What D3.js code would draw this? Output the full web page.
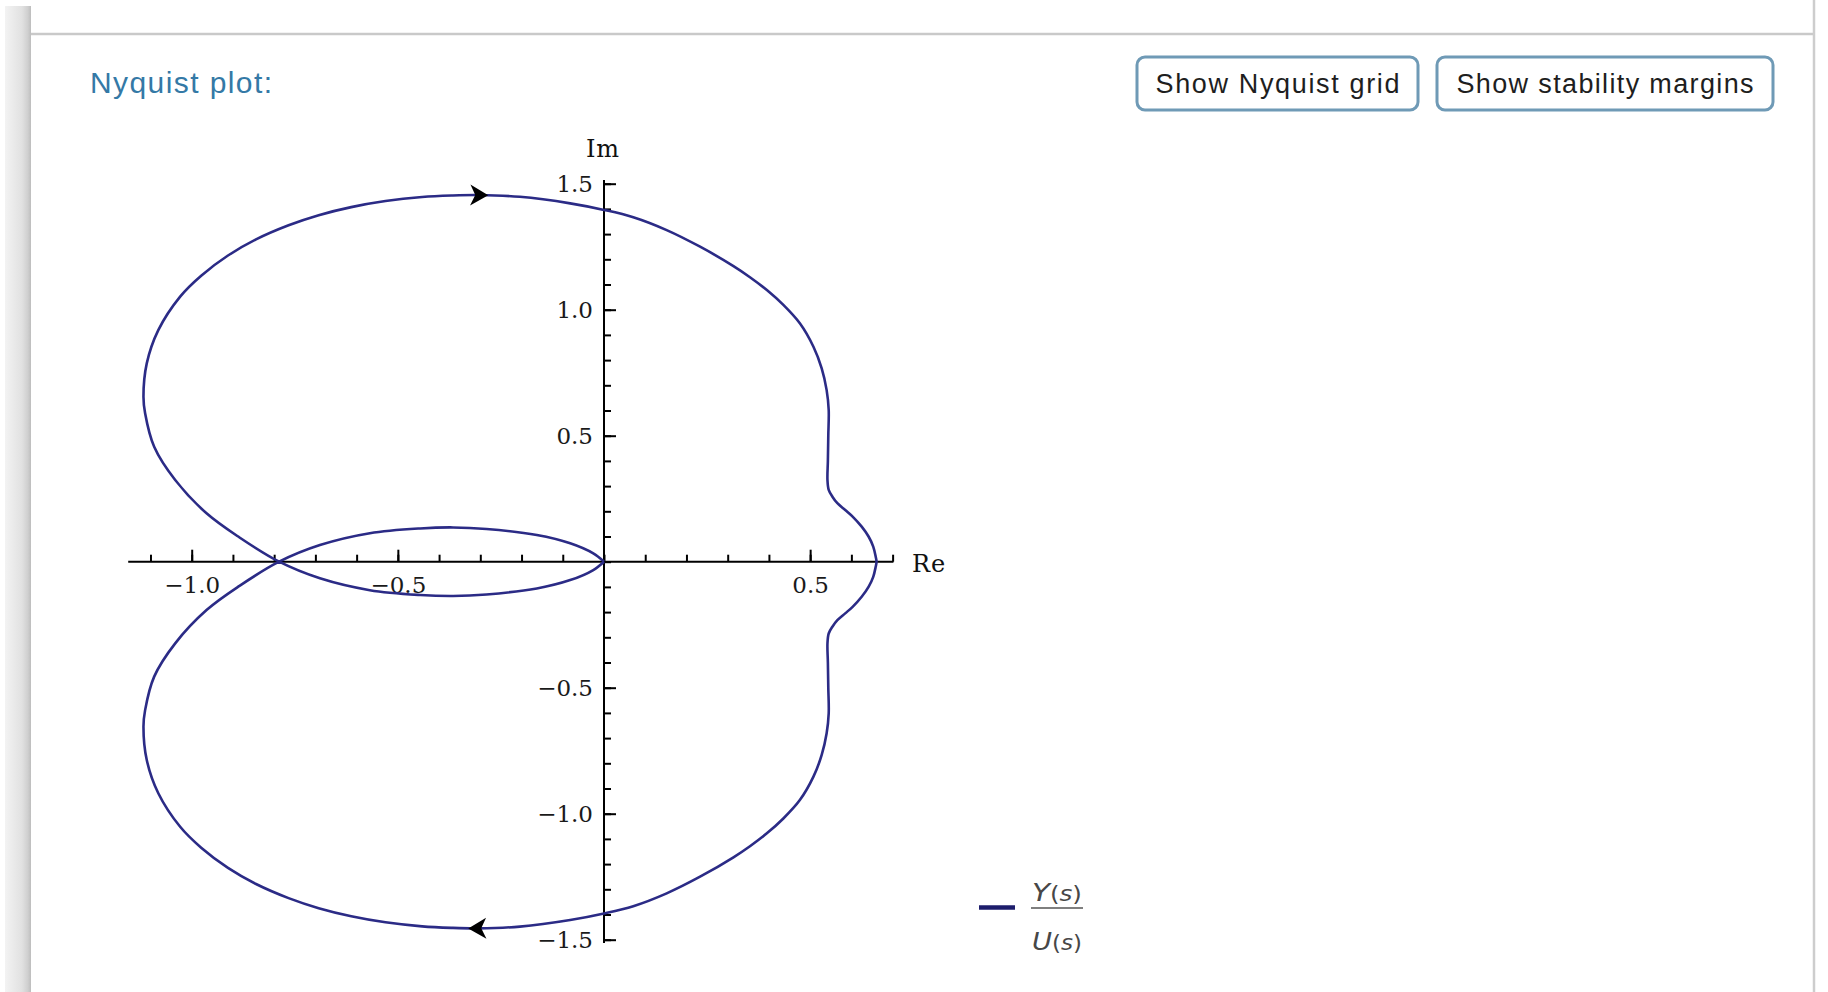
<!DOCTYPE html>
<html>
<head>
<meta charset="utf-8">
<script src="https://cdn.jsdelivr.net/npm/d3@7"></script>
<style>
  html, body { margin: 0; padding: 0; background: #ffffff; }
  svg { display: block; }
</style>
</head>
<body>
<svg id="chart" width="1828" height="992"></svg>
<script>
// Frequency response G(jω): branch for ω < 0, from ω = -∞ (origin) to ω = 0
const negOmegaRe = [0, -0.026, -0.082, -0.163, -0.285, -0.366, -0.446, -0.568, -0.689, -0.788,
  -0.884, -0.964, -1.040, -1.091, -1.113, -1.117,
  -1.109, -1.081, -1.028, -0.977, -0.912, -0.844, -0.765, -0.692, -0.613, -0.530, -0.441, -0.370, -0.305,
  -0.204, -0.082, 0, 0.071, 0.152, 0.233, 0.314, 0.354, 0.395, 0.435, 0.475, 0.508, 0.528, 0.540, 0.545,
  0.544, 0.543, 0.542, 0.545, 0.554, 0.566, 0.585, 0.603, 0.625, 0.642, 0.653, 0.659, 0.661];
const negOmegaIm = [0, -0.033, -0.073, -0.106, -0.130, -0.136, -0.132, -0.113, -0.066, 0,
  0.096, 0.192, 0.324, 0.456, 0.589, 0.655,
  0.787, 0.919, 1.052, 1.135, 1.215, 1.279, 1.335, 1.375, 1.407, 1.431, 1.447, 1.453, 1.455,
  1.448, 1.422, 1.396, 1.367, 1.316, 1.250, 1.173, 1.129, 1.078, 1.019, 0.946, 0.853, 0.767, 0.681, 0.602,
  0.500, 0.400, 0.324, 0.285, 0.258, 0.232, 0.205, 0.179, 0.139, 0.099, 0.060, 0.020, 0];

// Branch for ω > 0, from ω = 0 back to ω = +∞ (origin)
const posOmegaRe = [0.661, 0.659, 0.653, 0.642, 0.625, 0.603, 0.585, 0.566, 0.554, 0.545, 0.542, 0.543, 0.544,
  0.545, 0.540, 0.528, 0.508, 0.475, 0.435, 0.395, 0.354, 0.314, 0.233, 0.152, 0.071, 0, -0.082, -0.204,
  -0.305, -0.370, -0.441, -0.530, -0.613, -0.692, -0.765, -0.844, -0.912, -0.977, -1.028, -1.081, -1.109,
  -1.117, -1.113, -1.091, -1.040, -0.964, -0.884,
  -0.788, -0.689, -0.568, -0.446, -0.366, -0.285, -0.163, -0.082, -0.026, 0];
const posOmegaIm = [0, -0.020, -0.060, -0.099, -0.139, -0.179, -0.205, -0.232, -0.258, -0.285, -0.324, -0.400, -0.500,
  -0.602, -0.681, -0.767, -0.853, -0.946, -1.019, -1.078, -1.129, -1.173, -1.250, -1.316, -1.367, -1.396, -1.422, -1.448,
  -1.455, -1.453, -1.447, -1.431, -1.407, -1.375, -1.335, -1.279, -1.215, -1.135, -1.052, -0.919, -0.787,
  -0.655, -0.589, -0.456, -0.324, -0.192, -0.096,
  0, 0.066, 0.113, 0.132, 0.136, 0.130, 0.106, 0.073, 0.033, 0];

// direction arrows sit at this real part on each branch
const arrowRe = -0.305;

// axis ticks
const reMajorTicks = [-1.0, -0.5, 0.5];
const imMajorTicks = [-1.5, -1.0, -0.5, 0.5, 1.0, 1.5];
const reMinorTicks = d3.range(-11, 8).map(i => i / 10);
const imMinorTicks = d3.range(-15, 16).map(i => i / 10);
const reAxisExtent = [-1.154, 0.702];
const imAxisExtent = [-1.513, 1.515];

const titleText = "Nyquist plot:";
const buttonLabels = ["Show Nyquist grid", "Show stability margins"];

const svg = d3.select("#chart");

// ---- page frame ----
const defs = svg.append("defs");
const grad = defs.append("linearGradient").attr("id", "sideBar")
  .attr("x1", 0).attr("x2", 1).attr("y1", 0).attr("y2", 0);
grad.append("stop").attr("offset", 0).attr("stop-color", "#f3f3f3");
grad.append("stop").attr("offset", 0.65).attr("stop-color", "#e1e1e1");
grad.append("stop").attr("offset", 0.88).attr("stop-color", "#cfcfcf");
grad.append("stop").attr("offset", 1).attr("stop-color", "#bdbdbd");

svg.append("rect").attr("x", 5).attr("y", 6).attr("width", 26).attr("height", 992)
  .attr("fill", "url(#sideBar)");
svg.append("line").attr("x1", 31).attr("x2", 1815).attr("y1", 34).attr("y2", 34)
  .attr("stroke", "#c9c9c9").attr("stroke-width", 2.5);
svg.append("line").attr("x1", 1814).attr("x2", 1814).attr("y1", 0).attr("y2", 992)
  .attr("stroke", "#cdcdcd").attr("stroke-width", 2.5);

// ---- header ----
svg.append("text").attr("x", 90).attr("y", 93)
  .attr("font-family", "'Liberation Sans', Arial, sans-serif")
  .attr("font-size", 30).attr("fill", "#3479a6")
  .attr("textLength", 182).attr("lengthAdjust", "spacing")
  .text(titleText);

const buttons = [
  { x: 1137, w: 281, tw: 244 },
  { x: 1437, w: 336, tw: 297 }
];
buttons.forEach((b, i) => {
  const g = svg.append("g");
  g.append("rect").attr("x", b.x).attr("y", 57).attr("width", b.w).attr("height", 53)
    .attr("rx", 8).attr("ry", 8)
    .attr("fill", "#ffffff").attr("stroke", "#6f9ab6").attr("stroke-width", 3);
  g.append("text").attr("x", b.x + b.w / 2).attr("y", 93)
    .attr("text-anchor", "middle")
    .attr("font-family", "'Liberation Sans', Arial, sans-serif")
    .attr("font-size", 27).attr("fill", "#1e1e1e")
    .attr("textLength", b.tw).attr("lengthAdjust", "spacing")
    .text(buttonLabels[i]);
});

// ---- scales ----
const x = d3.scaleLinear().domain([-1, 0.5]).range([191.7, 810.15]);
const y = d3.scaleLinear().domain([-1.5, 1.5]).range([939.7, 183.7]);

const plot = svg.append("g");
const tickFont = "'DejaVu Serif', serif";

// x axis: ticks point upward, labels underneath
const x0 = y(0);
plot.append("line").attr("x1", x(reAxisExtent[0])).attr("x2", x(reAxisExtent[1]))
  .attr("y1", x0).attr("y2", x0).attr("stroke", "#000").attr("stroke-width", 2);

const xMinor = plot.append("g").attr("transform", `translate(0,${x0})`)
  .call(d3.axisTop(x).tickValues(reMinorTicks).tickSize(7).tickFormat(""));
const xMajor = plot.append("g").attr("transform", `translate(0,${x0})`)
  .call(d3.axisTop(x).tickValues(reMajorTicks).tickSize(12).tickFormat(""));
const xLabels = plot.append("g").attr("transform", `translate(0,${x0})`)
  .call(d3.axisBottom(x).tickValues(reMajorTicks).tickSize(0).tickPadding(15)
    .tickFormat(d3.format(".1f")));

// y axis: ticks point right, labels on the left
const y0 = x(0);
plot.append("line").attr("x1", y0).attr("x2", y0)
  .attr("y1", y(imAxisExtent[1])).attr("y2", y(imAxisExtent[0]))
  .attr("stroke", "#000").attr("stroke-width", 2);

const yMinor = plot.append("g").attr("transform", `translate(${y0},0)`)
  .call(d3.axisRight(y).tickValues(imMinorTicks).tickSize(7).tickFormat(""));
const yMajor = plot.append("g").attr("transform", `translate(${y0},0)`)
  .call(d3.axisRight(y).tickValues(imMajorTicks).tickSize(12).tickFormat(""));
const yLabels = plot.append("g").attr("transform", `translate(${y0},0)`)
  .call(d3.axisLeft(y).tickValues(imMajorTicks).tickSize(0).tickPadding(11)
    .tickFormat(d3.format(".1f")));

[xMinor, xMajor, yMinor, yMajor, xLabels, yLabels].forEach(g => {
  g.select(".domain").remove();
  g.selectAll(".tick line").attr("stroke", "#000").attr("stroke-width", 2);
  g.selectAll("text").attr("font-family", tickFont).attr("font-size", 23)
    .attr("fill", "#1a1a1a");
});

// axis names
plot.append("text").attr("x", y0 - 1).attr("y", 157)
  .attr("text-anchor", "middle").attr("font-family", tickFont)
  .attr("font-size", 24).attr("fill", "#111").attr("letter-spacing", 1)
  .text("Im");
plot.append("text").attr("x", 912).attr("y", 572)
  .attr("font-family", tickFont)
  .attr("font-size", 24).attr("fill", "#111").attr("letter-spacing", 1)
  .text("Re");

// ---- Nyquist curve ----
const negPts = negOmegaRe.map((r, i) => [r, negOmegaIm[i]]);
const posPts = posOmegaRe.map((r, i) => [r, posOmegaIm[i]]);
const fullPts = negPts.concat(posPts.slice(1));

const line = d3.line()
  .x(d => x(d[0])).y(d => y(d[1]))
  .curve(d3.curveCatmullRom.alpha(0.5));

const curveColor = "#2b2b86";
plot.append("path").datum(fullPts)
  .attr("d", line)
  .attr("fill", "none").attr("stroke", curveColor).attr("stroke-width", 2.6)
  .attr("stroke-linejoin", "round");

// direction arrowheads, oriented along the curve
function arrowAt(pts, i) {
  const a = pts[i - 1], b = pts[i + 1];
  const ang = Math.atan2(y(b[1]) - y(a[1]), x(b[0]) - x(a[0])) * 180 / Math.PI;
  plot.append("path")
    .attr("d", "M10,0 L-8,-10.5 L-3,0 L-8,10.5 Z")
    .attr("fill", "#000")
    .attr("transform", `translate(${x(pts[i][0])},${y(pts[i][1])}) rotate(${ang})`);
}
arrowAt(negPts, negOmegaRe.indexOf(arrowRe));
arrowAt(posPts, posOmegaRe.indexOf(arrowRe));

// ---- legend ----
const legend = svg.append("g");
legend.append("line").attr("x1", 979).attr("x2", 1015).attr("y1", 907.5).attr("y2", 907.5)
  .attr("stroke", "#1d1d6c").attr("stroke-width", 4.5);
legend.append("line").attr("x1", 1031).attr("x2", 1083).attr("y1", 908).attr("y2", 908)
  .attr("stroke", "#555").attr("stroke-width", 1.6);
const legFont = "'DejaVu Sans', 'Liberation Sans', sans-serif";
function legendTerm(letter, yBase) {
  const t = legend.append("text").attr("x", 1032).attr("y", yBase)
    .attr("font-family", legFont).attr("fill", "#474747")
    .attr("font-style", "italic")
    .attr("textLength", 50).attr("lengthAdjust", "spacingAndGlyphs");
  t.append("tspan").attr("font-size", 25).text(letter);
  t.append("tspan").attr("font-size", 21).attr("font-style", "normal").text("(");
  t.append("tspan").attr("font-size", 21).text("s");
  t.append("tspan").attr("font-size", 21).attr("font-style", "normal").text(")");
}
legendTerm("Y", 901);
legendTerm("U", 950);
</script>
</body>
</html>
